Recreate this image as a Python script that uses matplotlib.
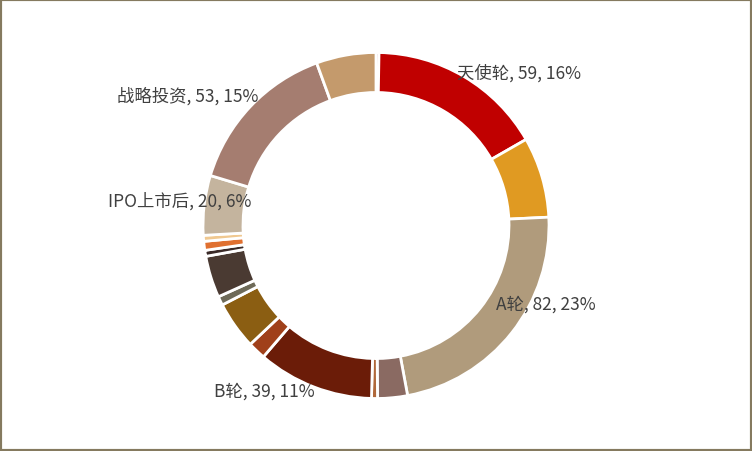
import matplotlib
matplotlib.use('Agg')
import matplotlib.pyplot as plt
from matplotlib.patches import Rectangle

plt.rcParams['font.family'] = ['Noto Sans CJK SC', 'DejaVu Sans']

# 各轮次数据（顺时针，从12点方向开始）
names = ['', '天使轮', '', 'A轮', '', '', 'B轮', '', '', '', '', '', '', '',
         'IPO上市后', '战略投资', '']
values = [1, 59, 27, 82, 10, 2, 39, 6, 16, 3, 14, 2, 3, 2, 20, 53, 20]
colors = ['#8B1A1A', '#C00000', '#E09A22', '#B09B7C', '#8A6A62', '#B0683A',
          '#6B1C08', '#A0401A', '#8B5E12', '#6E6A58', '#4A3A32', '#3A2A28',
          '#E07030', '#F0C890', '#C4B49E', '#A57D70', '#C49A6C']

# 标签位置（像素坐标，左下为原点）
label_pos = {'天使轮': (457, 379), 'A轮': (496, 147), 'B轮': (214, 60),
             'IPO上市后': (108, 251), '战略投资': (117, 356)}

fig = plt.figure(figsize=(7.52, 4.52), dpi=100)
ax = fig.add_axes([0, 0, 1, 1])
ax.set_xlim(0, 752)
ax.set_ylim(0, 452)
ax.set_aspect('equal')
ax.axis('off')

ax.pie(values, colors=colors, startangle=90, counterclock=False,
       center=(376, 225.5), radius=173,
       wedgeprops=dict(width=40, edgecolor='white', linewidth=2))
ax.set_xlim(0, 752)
ax.set_ylim(0, 452)

total = sum(values)
for n, v in zip(names, values):
    if n:
        x, y = label_pos[n]
        ax.text(x, y, f'{n}, {v}, {v / total:.0%}', fontsize=12.5,
                color='#404040', ha='left', va='center')

# 外边框
fig.patches.append(Rectangle((0, 0), 1, 1, transform=fig.transFigure,
                             fill=False, edgecolor='#857A5F', linewidth=3))

fig.savefig('out.png', dpi=100)
